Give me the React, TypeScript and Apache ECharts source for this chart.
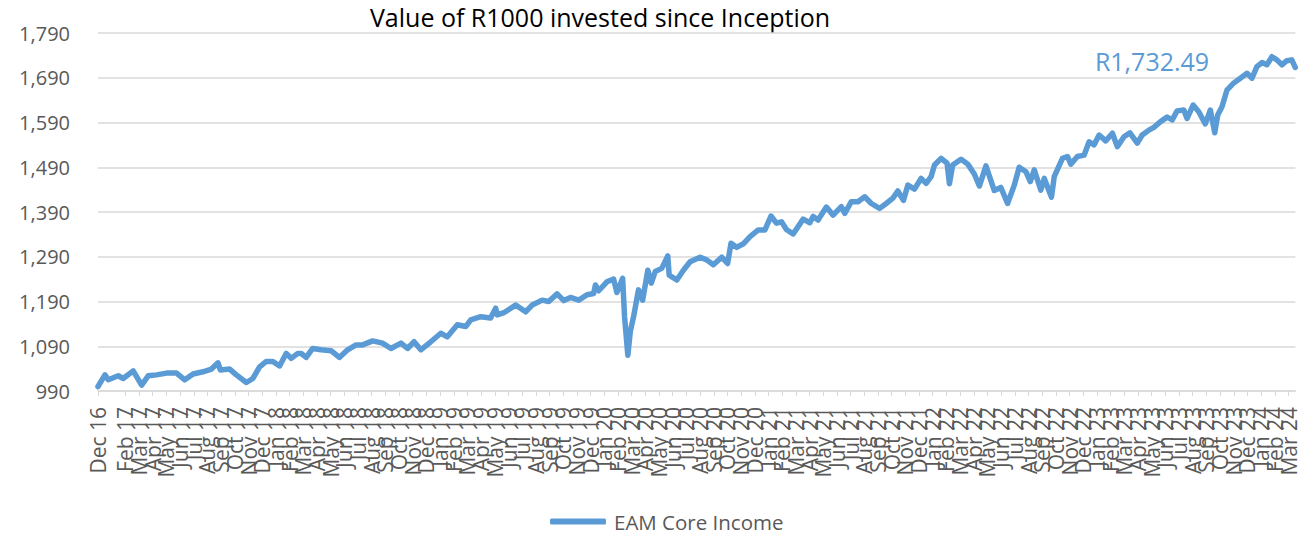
import React, { useEffect, useRef } from "react";
import * as echarts from "echarts";

const monthNames = ["Jan", "Feb", "Mar", "Apr", "May", "Jun", "Jul", "Aug", "Sep", "Oct", "Nov", "Dec"];
const firstLabel = "Dec 16";
const labelYears = [17, 18, 19, 20, 21, 22, 23, 24];
const lastYearMonths = 3;

const yTicks = { min: 990, max: 1790, step: 100 };

// position in months since Dec 16 (0 = Dec 16)
const monthPos = [
  0, 0.51, 0.75, 1.48, 1.84, 2.57, 3.19, 3.67, 4.28, 5.01, 5.74, 6.34, 6.95, 7.67, 8.29, 8.77, 8.94, 9.62,
  10.11, 10.84, 11.32, 11.81, 12.3, 12.78, 13.27, 13.75, 14.12, 14.6, 14.85, 15.21, 15.69, 16.3, 17.03, 17.64,
  18.24, 18.86, 19.34, 20.07, 20.79, 21.41, 22.14, 22.62, 23.1, 23.59, 24.32, 25.05, 25.53, 26.26, 26.87, 27.24,
  27.97, 28.69, 29.06, 29.18, 29.66, 30.52, 31.25, 31.73, 32.46, 32.94, 33.55, 34.04, 34.53, 35.13, 35.74, 36.22,
  36.35, 36.59, 37.19, 37.68, 37.92, 38.34, 38.48, 38.72, 38.9, 39.14, 39.5, 39.8, 40.18, 40.43, 40.72, 41.2,
  41.64, 41.74, 42.3, 42.78, 43.27, 44.0, 44.48, 44.97, 45.58, 46.01, 46.26, 46.67, 47.16, 47.65, 48.25, 48.74,
  49.18, 49.58, 49.95, 50.31, 50.8, 51.53, 52.02, 52.26, 52.62, 53.23, 53.72, 54.32, 54.57, 55.05, 55.54, 56.03,
  56.51, 57.12, 57.6, 58.09, 58.45, 58.86, 59.18, 59.67, 60.15, 60.52, 60.88, 61.13, 61.61, 62.05, 62.22, 62.46,
  63.07, 63.56, 64.04, 64.41, 64.89, 65.5, 65.98, 66.47, 66.96, 67.32, 67.81, 68.13, 68.42, 68.9, 69.15, 69.68,
  69.88, 70.48, 70.85, 71.09, 71.57, 72.06, 72.43, 72.79, 73.16, 73.64, 74.13, 74.49, 74.98, 75.41, 75.95, 76.31,
  76.8, 77.16, 77.65, 78.13, 78.5, 78.86, 79.35, 79.59, 80.03, 80.44, 80.92, 81.29, 81.61, 81.83, 82.14, 82.51,
  82.99, 83.48, 83.97, 84.33, 84.69, 85.06, 85.42, 85.79, 86.15, 86.52, 86.88, 87.24, 87.49,
];

const coreIncome = [
  1000, 1026, 1015, 1024, 1018, 1035, 1003, 1024, 1026, 1030, 1030, 1015, 1028, 1033, 1039, 1053, 1037, 1039,
  1026, 1009, 1018, 1044, 1056, 1056, 1046, 1074, 1063, 1074, 1074, 1065, 1085, 1082, 1080, 1065,
  1082, 1093, 1093, 1102, 1097, 1085, 1097, 1085, 1100, 1082, 1100, 1119, 1111, 1138, 1134, 1149,
  1156, 1153, 1175, 1160, 1165, 1182, 1167, 1182, 1193, 1190, 1207, 1192, 1199, 1193, 1205, 1208,
  1227, 1214, 1234, 1240, 1210, 1242, 1156, 1070, 1123, 1156, 1216, 1193, 1260, 1231, 1257, 1264,
  1292, 1249, 1238, 1260, 1279, 1289, 1283, 1272, 1289, 1275, 1320, 1311, 1319, 1335, 1350, 1350,
  1381, 1365, 1368, 1351, 1341, 1374, 1366, 1380, 1372, 1401, 1383, 1402, 1387, 1413, 1413, 1424,
  1409, 1398, 1409, 1421, 1437, 1416, 1450, 1441, 1465, 1454, 1469, 1495, 1510, 1499, 1453, 1495,
  1508, 1497, 1475, 1448, 1493, 1438, 1445, 1409, 1450, 1490, 1480, 1458, 1484, 1439, 1465, 1423,
  1469, 1510, 1514, 1497, 1514, 1517, 1547, 1540, 1562, 1549, 1566, 1536, 1558, 1567, 1544, 1562,
  1573, 1579, 1592, 1602, 1596, 1616, 1618, 1599, 1629, 1614, 1587, 1618, 1567, 1607, 1625, 1663,
  1678, 1689, 1700, 1689, 1715, 1724, 1719, 1737, 1730, 1719, 1728, 1730, 1713,
];

const seriesName = "EAM Core Income";
const titleText = "Value of R1000 invested since Inception";
const endLabel = "R1,732.49";

const FONT = "'Open Sans', 'Noto Sans', sans-serif";
const BLUE = "#5B9BD5";
const GREY = "#595959";
const GRID = "#D9D9D9";

function buildMonthLabels(): string[] {
  const out = [firstLabel];
  labelYears.forEach((yy, idx) => {
    const count = idx === labelYears.length - 1 ? lastYearMonths : 12;
    for (let m = 0; m < count; m++) out.push(`${monthNames[m]} ${yy}`);
  });
  return out;
}

export default function App() {
  const ref = useRef<HTMLDivElement>(null);

  useEffect(() => {
    if (!ref.current) return;
    const chart = echarts.init(ref.current, undefined, { renderer: "svg" });
    const labels = buildMonthLabels();
    const data = monthPos.map((m, i) => [m, coreIncome[i]]);

    chart.setOption({
      animation: false,
      textStyle: { fontFamily: FONT },
      grid: { left: 98, right: 0, top: 33, bottom: 142, containLabel: false },
      graphic: [
        {
          type: "text",
          x: 600,
          y: 17,
          style: {
            text: titleText,
            fontFamily: FONT,
            fontSize: 25,
            fill: "#000000",
            textAlign: "center",
            textVerticalAlign: "middle",
          },
        },
        {
          type: "text",
          x: 1152,
          y: 61,
          style: {
            text: endLabel,
            fontFamily: FONT,
            fontSize: 25,
            fill: BLUE,
            textAlign: "center",
            textVerticalAlign: "middle",
          },
        },
      ],
      legend: {
        show: true,
        left: 545,
        top: 506,
        itemWidth: 56,
        itemHeight: 6,
        icon: "roundRect",
        itemStyle: { color: BLUE },
        textStyle: { fontFamily: FONT, fontSize: 20.5, color: GREY, padding: [0, 0, 0, 3] },
        data: [seriesName],
      },
      xAxis: {
        type: "value",
        min: 0,
        max: 87.5,
        interval: 1,
        axisLine: { show: true, lineStyle: { color: GRID, width: 1.5 } },
        axisTick: { show: true, length: 5, lineStyle: { color: GRID, width: 1 } },
        splitLine: { show: false },
        axisLabel: {
          rotate: 90,
          margin: 16,
          fontFamily: FONT,
          fontSize: 21,
          color: GREY,
          showMinLabel: true,
          showMaxLabel: false,
          hideOverlap: false,
          formatter: (v: number) => (Number.isInteger(v) && labels[v] ? labels[v] : ""),
        },
      },
      yAxis: {
        type: "value",
        min: yTicks.min,
        max: yTicks.max,
        interval: yTicks.step,
        axisLine: { show: false },
        axisTick: { show: false },
        splitLine: { show: true, lineStyle: { color: GRID, width: 1.5 } },
        axisLabel: {
          margin: 28,
          fontFamily: FONT,
          fontSize: 20,
          color: GREY,
          formatter: (v: number) => v.toLocaleString("en-US"),
        },
      },
      series: [
        {
          name: seriesName,
          type: "line",
          data,
          symbol: "none",
          showSymbol: false,
          lineStyle: { color: BLUE, width: 5.5, cap: "round", join: "round" },
          itemStyle: { color: BLUE },
        },
      ],
    });

    return () => chart.dispose();
  }, []);

  return (
    <div
      ref={ref}
      style={{ position: "fixed", left: 0, top: 0, width: 1299, height: 533, background: "#ffffff" }}
    />
  );
}
